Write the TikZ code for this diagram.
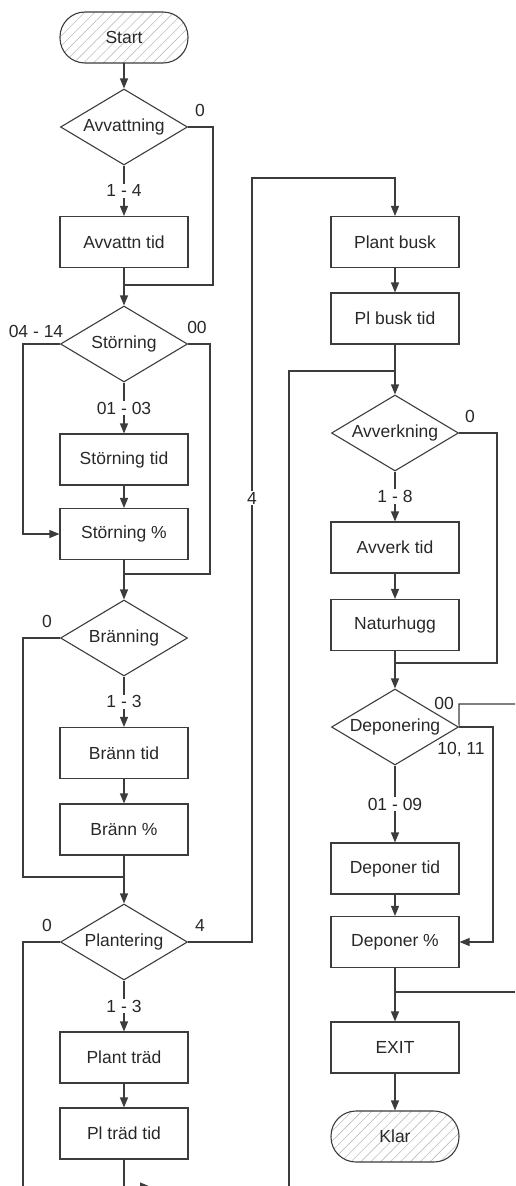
\documentclass[tikz,border=0pt]{standalone}
\usepackage{fontspec}
\setmainfont{Liberation Sans}
\usetikzlibrary{shapes.geometric,arrows.meta,patterns.meta}
\definecolor{ln}{RGB}{60,60,60}
\definecolor{tx}{RGB}{40,40,40}
\definecolor{hatch}{RGB}{190,190,190}
\begin{document}
\begin{tikzpicture}[x=1pt,y=-1pt,
  font=\fontsize{17.5}{20}\selectfont, text=tx,
  box/.style={draw=ln,line width=1.1pt,minimum width=128pt,minimum height=51pt,inner sep=0pt},
  term/.style={draw=ln,line width=1.1pt,minimum width=128pt,minimum height=51pt,inner sep=0pt,rounded corners=25pt,
     pattern={Lines[angle=45,distance=7pt,line width=0.6pt]},pattern color=hatch},
  dec/.style={draw=ln,line width=1.1pt,diamond,minimum width=127pt,minimum height=76pt,inner sep=0pt,aspect=1.67},
  line/.style={draw=ln,line width=1.1pt},
  arr/.style={draw=ln,line width=1.1pt,-{Triangle[length=10pt,width=8pt]}},
  lbl/.style={fill=white,inner sep=1pt}
]
\useasboundingbox (0,0) rectangle (515,1186);
% left column
\node[term] (start) at (124,37.5) {Start};
\node[dec] (d1) at (124,127) {Avvattning};
\node[box] (b1) at (124,242) {Avvattn tid};
\node[dec] (d2) at (124,344) {Störning};
\node[box] (b2) at (124,459.5) {Störning tid};
\node[box] (b3) at (124,534) {Störning \%};
\node[dec] (d3) at (124,638) {Bränning};
\node[box] (b4) at (124,753) {Bränn tid};
\node[box] (b5) at (124,829.5) {Bränn \%};
\node[dec] (d4) at (124,942) {Plantering};
\node[box] (b6) at (124,1057.5) {Plant träd};
\node[box] (b7) at (124,1133.5) {Pl träd tid};
% right column
\node[box] (b8) at (395,242) {Plant busk};
\node[box] (b9) at (395,318.5) {Pl busk tid};
\node[dec] (d5) at (395,433) {Avverkning};
\node[box] (b10) at (395,547.5) {Avverk tid};
\node[box] (b11) at (395,625) {Naturhugg};
\node[dec] (d6) at (395,727) {Deponering};
\node[box] (b12) at (395,868.5) {Deponer tid};
\node[box] (b13) at (395,942) {Deponer \%};
\node[box] (b14) at (395,1047.5) {EXIT};
\node[term] (klar) at (395,1136.5) {Klar};
% coordinates
\coordinate (j1) at (124,285);
\coordinate (j2) at (124,574);
\coordinate (j3) at (124,877);
\coordinate (bl) at (23,1186.5);
\coordinate (bm) at (150,1186.5);
\coordinate (br) at (289,1186.5);
\coordinate (bc) at (124,1186.5);
\coordinate (j4) at (395,371);
\coordinate (j5) at (395,663);
\coordinate (j6) at (395,992);
\coordinate (e1) at (515,704);
\coordinate (e2) at (515,992);
% main flow left
\draw[arr] (start) -- (d1);
\draw[arr] (d1) -- node[lbl,pos=0.5]{1 - 4} (b1);
\draw[line] (d1.east) -- (213,127) -- (213,285) -- (j1);
\draw[arr] (b1) -- (d2);
\draw[arr] (d2) -- node[lbl,pos=0.5]{01 - 03} (b2);
\draw[arr] (d2.west) -- (23,344) |- (b3.west);
\draw[line] (d2.east) -- (210,344) -- (210,574) -- (j2);
\draw[arr] (b2) -- (b3);
\draw[arr] (b3) -- (d3);
\draw[line] (d3.west) -- (23,638) |- (j3);
\draw[arr] (d3) -- node[lbl,pos=0.5]{1 - 3} (b4);
\draw[arr] (b4) -- (b5);
\draw[arr] (b5) -- (d4);
\draw[arr] (d4) -- node[lbl,pos=0.5]{1 - 3} (b6);
\draw[arr] (b6) -- (b7);
\draw[line] (b7) -- (bc);
\draw[line] (d4.west) -- (23,942) -- (bl);
\draw[arr] (bl) -- (bm);
\draw[line] (bm) -- (br) -- (289,371) -- (j4);
\draw[arr] (d4.east) -- (252,942) -- node[lbl,pos=0.581]{4} (252,178) -- (395,178) -- (b8.north);
% right column
\draw[arr] (b8) -- (b9);
\draw[arr] (b9) -- (d5);
\draw[line] (d5.east) -- (497,433) -- (497,663) -- (j5);
\draw[arr] (d5) -- node[lbl,pos=0.5]{1 - 8} (b10);
\draw[arr] (b10) -- (b11);
\draw[arr] (b11) -- (d6);
\draw[line] (d6.east) -- (459,704) -- (e1);
\draw[arr] (d6.east) -- (493,727) |- (b13.east);
\draw[arr] (d6) -- node[lbl,pos=0.5]{01 - 09} (b12);
\draw[arr] (b12) -- (b13);
\draw[arr] (b13) -- (b14);
\draw[line] (e2) -- (j6);
\draw[arr] (b14) -- (klar);
% labels
\node at (200,110) {0};
\node at (36,331) {04 - 14};
\node at (197,327) {00};
\node at (47,621) {0};
\node at (47,925) {0};
\node at (200,925) {4};
\node at (470,416) {0};
\node at (444,703) {00};
\node at (461,749) {10, 11};
\end{tikzpicture}
\end{document}
